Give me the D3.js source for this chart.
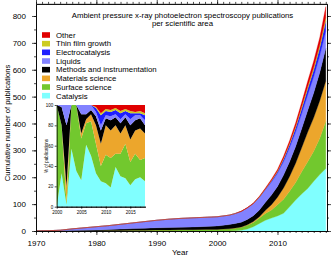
<!DOCTYPE html>
<html>
<head>
<meta charset="utf-8">
<script src="https://cdn.jsdelivr.net/npm/d3@7"></script>
<style>
  body { margin: 0; background: #fff; }
  svg { display: block; font-family: "Liberation Sans", Arial, sans-serif; }
  .axis .domain { stroke: #000; stroke-width: 0.8; }
  .axis line { stroke: #000; stroke-width: 0.7; }
  .axis text { fill: #000; }
</style>
</head>
<body>
<svg id="chart" width="331" height="257"></svg>
<script>
// cumulative number of publications per scientific area (main chart)
var years = [1970, 1972, 1974, 1976, 1978, 1980, 1982, 1984, 1986, 1988, 1990, 1992, 1994, 1996, 1998,
  2000, 2001, 2002, 2003, 2004, 2005, 2006, 2007, 2008, 2009, 2010, 2011, 2012, 2013, 2014, 2015, 2016, 2017, 2018];
var catalysis =        [0, 0, 0, 0, 0, 0, 0, 0, 0, 0, 0, 0, 0, 0, 0,   0, 0, 0, 1, 3, 7, 16, 28, 40, 48, 56, 66, 90, 115, 138, 158, 185, 210, 233];
var surfaceScience =   [0, 0, 0, 0, 1, 1, 2, 2, 3, 3, 4, 4, 5, 5, 6,   6, 7, 7, 9, 11, 14, 16, 20, 25, 30, 42, 52, 58, 65, 82, 100, 112, 135, 175];
var materialsScience = [0, 0, 0, 0, 0, 0, 0, 0, 0, 0, 0, 0, 0, 0, 0,   0, 0, 1, 1, 1, 2, 3, 5, 12, 20, 28, 42, 55, 72, 90, 110, 125, 140, 150];
var methods =          [0, 0, 1, 2, 2, 3, 4, 5, 6, 7, 8, 9, 9, 10, 11, 13, 14, 16, 17, 18, 20, 22, 25, 30, 36, 40, 48, 55, 62, 70, 80, 92, 105, 122];
var liquids =          [0, 1, 2, 6, 9, 12, 14, 18, 21, 25, 28, 31, 33, 34, 34, 34, 35, 35, 37, 40, 43, 45, 47, 47, 48, 49, 50, 52, 54, 56, 58, 60, 62, 64];
var electrocatalysis = [0, 0, 0, 0, 0, 0, 0, 0, 0, 0, 0, 0, 0, 0, 0,   0, 0, 0, 0, 0, 0, 0, 1, 2, 4, 5, 8, 11, 15, 18, 22, 25, 29, 36];
var thinFilm =         [0, 0, 0, 0, 0, 0, 0, 0, 0, 0, 0, 0, 0, 0, 0,   0, 0, 0, 0, 0, 0, 0, 1, 1, 2, 3, 4, 5, 6, 8, 9, 10, 11, 15];
var other =            [0, 0, 0, 0, 0, 0, 0, 0, 0, 0, 0, 0, 0, 0, 0,   0, 0, 0, 0, 1, 1, 2, 2, 3, 5, 6, 8, 10, 13, 16, 20, 24, 28, 40];

// share of each area in the publications of every year, % (inset)
var insetYears = [2000, 2001, 2002, 2003, 2004, 2005, 2006, 2007, 2008, 2009, 2010, 2011, 2012, 2013, 2014, 2015, 2016, 2017, 2018];
var insetCatalysis =   [0, 33, 2, 57, 35, 26, 61, 50, 33, 25, 23, 19, 39, 30, 28, 21, 27, 29, 25];
var insetSurface =     [100, 47, 2, 43, 65, 41, 21, 34, 29, 15, 28, 29, 13, 22, 34, 23, 25, 17, 23];
var insetMaterials =   [0, 0, 16, 0, 0, 5, 4, 7, 18, 22, 29, 27, 28, 20, 18, 22, 23, 31, 24];
var insetMethods =     [0, 18, 60, 0, 0, 19, 5, 4, 9, 13, 7, 10, 8, 10, 8, 14, 10, 10, 8];
var insetLiquids =     [0, 2, 20, 0, 0, 9, 9, 5, 4, 5, 3, 4, 3, 4, 3, 6, 5, 3, 5];
var insetElectro =     [0, 0, 0, 0, 0, 0, 0, 0, 4, 10, 4, 4, 4, 6, 3, 6, 2, 2, 5];
var insetThinFilm =    [0, 0, 0, 0, 0, 0, 0, 0, 1, 2, 2, 2, 2, 2, 2, 2, 1, 2, 2];
var insetOther =       [0, 0, 0, 0, 0, 0, 0, 0, 2, 8, 4, 5, 3, 6, 4, 6, 7, 6, 8];

var areaNames = ["Catalysis", "Surface science", "Materials science", "Methods and instrumentation",
  "Liquids", "Electrocatalysis", "Thin film growth", "Other"];
var areaColors = ["#80ffff", "#72c82e", "#eca62c", "#000000", "#8282ff", "#1e1eff", "#cccc22", "#e00000"];

var yearTicks = [1970, 1980, 1990, 2000, 2010];
var countTicks = [0, 100, 200, 300, 400, 500, 600, 700, 800];
var insetYearTicks = [2000, 2005, 2010, 2015];
var percentTicks = [0, 20, 40, 60, 80, 100];

var titleLines = ["Ambient pressure x-ray photoelectron spectroscopy publications", "per scientific area"];

var svg = d3.select("#chart");

/**
 * Turn the per-area arrays into rows that d3.stack can eat.
 */
function buildRows(xs, series) {
  return xs.map(function(x, i) {
    var row = { year: x };
    areaNames.forEach(function(name, k) {
      row[name] = series[k][i];
    });
    return row;
  });
}

function styleTicks(g, fontSize) {
  g.attr("class", "axis");
  g.selectAll("text").style("font-size", fontSize + "px");
}

function drawMain() {
  var left = 36, right = 327, top = 3.9, bottom = 231;

  var xScale = d3.scaleLinear().domain([1970, 2018.2]).range([left, right]);
  var yScale = d3.scaleLinear().domain([0, 845]).range([bottom, top]);

  var rows = buildRows(years, [catalysis, surfaceScience, materialsScience, methods,
    liquids, electrocatalysis, thinFilm, other]);
  var stacked = d3.stack().keys(areaNames)(rows);

  var area = d3.area()
    .x(function(d) { return xScale(d.data.year); })
    .y0(function(d) { return yScale(d[0]); })
    .y1(function(d) { return yScale(d[1]); });

  svg.append("g").selectAll("path")
    .data(stacked)
    .enter().append("path")
    .attr("d", area)
    .attr("fill", function(d, i) { return areaColors[i]; })
    .attr("stroke", function(d, i) { return areaColors[i]; })
    .attr("stroke-width", 0.3);

  // axes: labels bottom/left, mirrored ticks top/right
  var everyYear = d3.range(1970, 2019);
  var every50 = d3.range(0, 850, 50);

  svg.append("g").attr("transform", "translate(0," + bottom + ")")
    .call(d3.axisBottom(xScale).tickValues(everyYear).tickSize(2).tickSizeOuter(0).tickFormat(""))
    .call(styleTicks, 8);
  svg.append("g").attr("transform", "translate(0," + bottom + ")")
    .call(d3.axisBottom(xScale).tickValues(yearTicks).tickSize(4).tickSizeOuter(0)
      .tickPadding(5).tickFormat(d3.format("d")))
    .call(styleTicks, 8);

  svg.append("g").attr("transform", "translate(0," + top + ")")
    .call(d3.axisTop(xScale).tickValues(everyYear).tickSize(2).tickSizeOuter(0).tickFormat(""))
    .call(styleTicks, 8);
  svg.append("g").attr("transform", "translate(0," + top + ")")
    .call(d3.axisTop(xScale).tickValues(yearTicks).tickSize(4).tickSizeOuter(0).tickFormat(""))
    .call(styleTicks, 8);

  svg.append("g").attr("transform", "translate(" + left + ",0)")
    .call(d3.axisLeft(yScale).tickValues(every50).tickSize(2).tickSizeOuter(0).tickFormat(""))
    .call(styleTicks, 8);
  svg.append("g").attr("transform", "translate(" + left + ",0)")
    .call(d3.axisLeft(yScale).tickValues(countTicks).tickSize(4).tickSizeOuter(0).tickPadding(6))
    .call(styleTicks, 8);

  svg.append("g").attr("transform", "translate(" + right + ",0)")
    .call(d3.axisRight(yScale).tickValues(every50).tickSize(2).tickSizeOuter(0).tickFormat(""))
    .call(styleTicks, 8);
  svg.append("g").attr("transform", "translate(" + right + ",0)")
    .call(d3.axisRight(yScale).tickValues(countTicks).tickSize(4).tickSizeOuter(0).tickFormat(""))
    .call(styleTicks, 8);

  svg.append("text")
    .attr("x", 180).attr("y", 255)
    .attr("text-anchor", "middle")
    .style("font-size", "8px")
    .text("Year");

  svg.append("text")
    .attr("transform", "translate(10,123) rotate(-90)")
    .attr("text-anchor", "middle")
    .style("font-size", "7.6px")
    .text("Cumulative number of publications");

  svg.selectAll(".title")
    .data(titleLines)
    .enter().append("text")
    .attr("class", "title")
    .attr("x", 182.5)
    .attr("y", function(d, i) { return 17.8 + i * 8.4; })
    .attr("text-anchor", "middle")
    .style("font-size", "7.8px")
    .text(function(d) { return d; });

  // legend, top entry is the top layer
  var legendOrder = areaNames.slice().reverse();
  var legend = svg.append("g").selectAll("g")
    .data(legendOrder)
    .enter().append("g")
    .attr("transform", function(d, i) { return "translate(42," + (35 + i * 8.67) + ")"; });

  legend.append("rect")
    .attr("x", 0).attr("y", -2.8)
    .attr("width", 8).attr("height", 5.6)
    .attr("fill", function(d) { return areaColors[areaNames.indexOf(d)]; });

  legend.append("text")
    .attr("x", 14).attr("y", 2.8)
    .style("font-size", "7.8px")
    .text(function(d) { return d; });
}

function drawInset() {
  var left = 56.7, right = 145, top = 105, bottom = 206.7;

  var xScale = d3.scaleLinear().domain([2000, 2018]).range([left, right]);
  var yScale = d3.scaleLinear().domain([0, 100]).range([bottom, top]);

  var rows = buildRows(insetYears, [insetCatalysis, insetSurface, insetMaterials, insetMethods,
    insetLiquids, insetElectro, insetThinFilm, insetOther]);
  var stacked = d3.stack().keys(areaNames)(rows);

  var area = d3.area()
    .x(function(d) { return xScale(d.data.year); })
    .y0(function(d) { return yScale(d[0]); })
    .y1(function(d) { return yScale(d[1]); });

  svg.append("g").selectAll("path")
    .data(stacked)
    .enter().append("path")
    .attr("d", area)
    .attr("fill", function(d, i) { return areaColors[i]; });

  svg.append("g").attr("transform", "translate(0," + bottom + ")")
    .call(d3.axisBottom(xScale).tickValues(d3.range(2000, 2019)).tickSize(1).tickSizeOuter(0).tickFormat(""))
    .call(styleTicks, 4.5);
  svg.append("g").attr("transform", "translate(0," + bottom + ")")
    .call(d3.axisBottom(xScale).tickValues(insetYearTicks).tickSize(2).tickSizeOuter(0)
      .tickPadding(2).tickFormat(d3.format("d")))
    .call(styleTicks, 4.5);

  svg.append("g").attr("transform", "translate(" + left + ",0)")
    .call(d3.axisLeft(yScale).tickValues(percentTicks).tickSize(2).tickSizeOuter(0).tickPadding(1.5))
    .call(styleTicks, 4.5);

  svg.selectAll(".axis .domain").style("stroke-width", null);

  svg.append("text")
    .attr("transform", "translate(48,156) rotate(-90)")
    .attr("text-anchor", "middle")
    .style("font-size", "4.5px")
    .text("% of publications");
}

drawMain();
drawInset();
</script>
</body>
</html>
